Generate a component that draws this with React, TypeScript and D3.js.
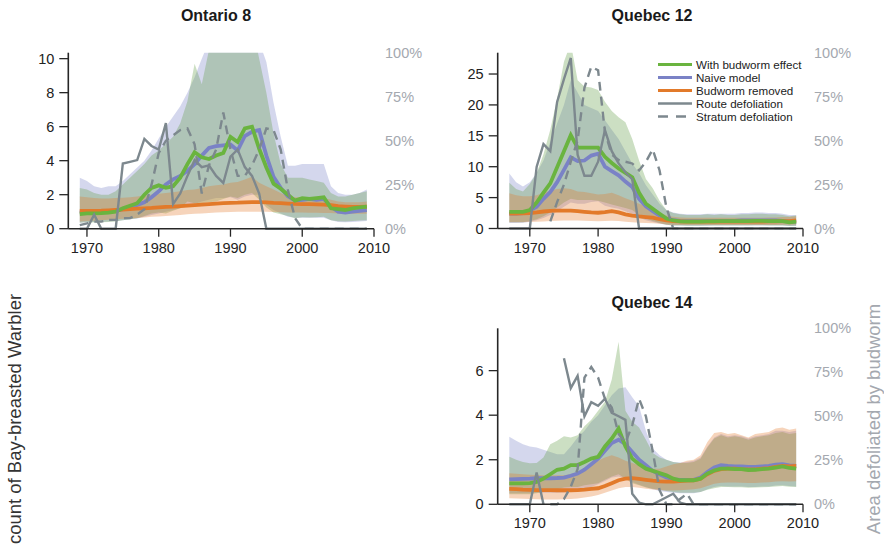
import React from "react";
import * as d3 from "d3";

// ---------------- DATA ----------------
// Ontario 8 : yearly values starting 1969
const ON8_START = 1969;
const ON8_green = [0.86,0.9,0.9,0.92,0.95,1.0,1.2,1.35,1.5,2.0, 2.4,2.55,2.4,2.5,3.0,3.8,4.5,4.2,4.1,4.3, 4.45,5.4,5.1,5.9,6.0,4.7,3.6,2.65,2.35,2.0, 1.65,1.8,1.75,1.8,1.85,1.2,1.15,1.1,1.2,1.25, 1.3];
const ON8_blue = [0.95,1.0,1.0,1.0,1.02,1.05,1.15,1.25,1.4,1.55, 1.85,2.2,2.6,2.9,3.1,3.4,3.8,4.3,4.75,4.85, 4.9,4.95,4.6,5.45,5.7,5.8,4.3,3.05,2.4,1.9, 1.65,1.7,1.75,1.7,1.75,1.3,1.0,0.95,1.0,1.05, 1.1];
const ON8_orange = [1.05,1.05,1.05,1.06,1.08,1.1,1.12,1.15,1.18,1.2, 1.22,1.25,1.28,1.3,1.33,1.36,1.39,1.42,1.45,1.48, 1.5,1.52,1.53,1.55,1.56,1.56,1.55,1.52,1.5,1.48, 1.46,1.45,1.44,1.43,1.42,1.38,1.32,1.3,1.28,1.28, 1.3];
const ON8_blueHi = [3.0,2.8,2.5,2.4,2.5,2.5,2.8,3.2,3.6,4.0, 4.6,5.3,6.0,6.6,7.2,8.0,8.9,10.0,11,12, 12,12,12,12,12,11,9.8,7.4,5.4,3.7, 3.7,3.8,3.8,3.8,3.8,2.5,2.1,2.0,2.0,2.1, 2.3];
const ON8_blueLo = [0.35,0.4,0.4,0.4,0.42,0.45,0.5,0.55,0.6,0.7, 0.8,0.9,1.0,1.1,1.2,1.3,1.45,1.6,1.7,1.8, 1.8,1.85,1.7,1.9,2.0,2.0,1.4,1.1,0.9,0.7, 0.65,0.65,0.65,0.65,0.65,0.5,0.4,0.38,0.4,0.42, 0.45];
const ON8_greenHi = [2.4,2.3,2.1,2.0,2.0,2.2,2.6,3.0,3.4,3.8, 4.3,4.6,5.0,5.4,6.2,7.5,9.7,8.5,10.5,12, 12,12,12,12,12,10,8.0,5.6,3.8,3.0, 3.0,3.0,2.9,2.8,2.7,2.1,1.9,1.9,2.0,2.1, 2.2];
const ON8_greenLo = [0.35,0.38,0.36,0.38,0.4,0.42,0.5,0.55,0.62,0.75, 0.9,0.95,0.9,1.05,1.2,1.6,1.5,1.5,1.55,1.6, 1.75,1.9,1.8,2.0,2.1,1.7,1.25,0.95,0.85,0.75, 0.62,0.68,0.66,0.68,0.7,0.5,0.44,0.42,0.46,0.48, 0.5];
const ON8_orangeHi = [1.9,1.85,1.8,1.78,1.78,1.8,1.82,1.85,1.9,1.95, 2.0,2.05,2.1,2.15,2.2,2.28,2.3,2.4,2.5,2.55, 2.6,2.7,2.75,2.9,3.05,2.7,2.5,2.3,2.1,1.9, 1.85,1.85,1.8,1.8,1.8,1.7,1.6,1.55,1.55,1.55, 1.6];
const ON8_orangeLo = [0.42,0.45,0.47,0.5,0.52,0.55,0.58,0.6,0.63,0.66, 0.7,0.72,0.75,0.78,0.8,0.85,0.88,0.9,0.93,0.95, 0.97,0.98,0.99,1.0,1.0,1.0,1.0,0.98,0.97,0.96, 0.95,0.95,0.94,0.94,0.93,0.92,0.9,0.88,0.88,0.88, 0.88];
const ON8_route = [0,0,0.08,0,0,0,0.37,0.38,0.39,0.51, 0.47,0.45,0.6,0.14,0.2,0.3,0.39,0.35,0.36,0.3, 0.26,0.41,0.45,0.35,0.3,0.2,0,0,0,0, 0,0,0,0,0,0,0,0,0,0, 0];
const ON8_stratum = [0.02,0.03,0.04,0.04,0.05,0.05,0.06,0.06,0.08,0.11, 0.25,0.43,0.5,0.53,0.56,0.57,0.48,0.2,0.36,0.45, 0.66,0.45,0.3,0.3,0.36,0.45,0.57,0.56,0.45,0.22, 0.06,0,0,0,0,0,0,0,0,0, 0];

// Quebec 12 : yearly values starting 1967
const Q12_START = 1967;
const Q12_green = [2.7,2.7,2.7,3.0,4.2,5.8,7.3,9.9,12.5,15.1, 13.1,13.1,13.1,13.1,11.6,10.6,9.7,9.0,8.3,5.8, 4.0,3.2,2.4,1.62,1.3,1.15,1.1,1.1,1.1,1.15, 1.15,1.2,1.2,1.2,1.2,1.2,1.25,1.25,1.2,1.2, 1.2,1.0,1.1];
const Q12_blue = [2.4,2.4,2.5,2.9,3.5,4.8,5.9,7.5,9.5,11.5, 10.9,11.0,11.8,12.1,10.0,9.3,8.6,7.6,6.7,4.8, 3.6,2.8,2.1,1.6,1.35,1.25,1.2,1.2,1.2,1.2, 1.25,1.25,1.25,1.25,1.3,1.3,1.3,1.3,1.3,1.3, 1.25,1.1,1.1];
const Q12_orange = [2.4,2.4,2.45,2.5,2.6,2.75,2.85,2.9,2.9,2.9, 2.8,2.7,2.6,2.55,2.65,2.8,2.6,2.3,2.1,1.95, 1.85,1.75,1.5,1.3,1.2,1.15,1.1,1.1,1.1,1.1, 1.1,1.1,1.1,1.1,1.1,1.1,1.1,1.1,1.15,1.15, 1.2,1.2,1.3];
const Q12_blueHi = [8.9,7.5,6.8,7.5,9.0,11,14,17,20,24, 22,20,19.5,19,17.5,16,14.5,12.5,10.5,9, 7,5.5,4.0,3.0,2.6,2.4,2.3,2.3,2.3,2.4, 2.4,2.4,2.4,2.4,2.5,2.5,2.6,2.6,2.5,2.5, 2.4,2.2,2.2];
const Q12_blueLo = [0.9,0.9,0.95,1.1,1.35,1.7,2.2,2.8,3.5,4.2, 4.0,4.0,4.3,4.4,3.7,3.4,3.2,2.8,2.4,1.8, 1.35,1.05,0.8,0.6,0.5,0.48,0.46,0.46,0.46,0.46, 0.48,0.48,0.48,0.48,0.5,0.5,0.5,0.5,0.5,0.5, 0.48,0.42,0.42];
const Q12_greenHi = [7.4,6.4,6.0,7.2,9.0,12,16,21,27,30, 24,23,22.8,22.4,20.5,19,18,17.2,14.5,11, 8.0,6.5,4.5,3.0,2.5,2.3,2.2,2.2,2.2,2.3, 2.2,2.3,2.2,2.2,2.3,2.3,2.4,2.4,2.3,2.3, 2.2,2.0,2.1];
const Q12_greenLo = [1.0,1.0,1.0,1.2,1.5,2.0,2.6,3.4,4.2,4.8, 4.6,4.6,4.6,4.5,4.2,3.9,3.6,3.3,3.0,2.2, 1.6,1.2,0.9,0.6,0.5,0.48,0.46,0.46,0.46,0.48, 0.48,0.5,0.5,0.5,0.5,0.5,0.52,0.52,0.5,0.5, 0.5,0.42,0.45];
const Q12_orangeHi = [5.7,5.4,5.2,5.2,5.4,5.8,6.1,6.4,6.5,6.4, 6.0,5.9,5.7,5.5,5.6,5.8,5.4,4.9,4.5,4.0, 3.6,3.2,2.6,2.1,1.9,1.8,1.75,1.75,1.75,1.75, 1.75,1.75,1.75,1.75,1.75,1.75,1.75,1.75,1.8,1.8, 1.85,1.85,2.0];
const Q12_orangeLo = [1.0,1.0,1.02,1.05,1.1,1.15,1.2,1.25,1.3,1.3, 1.28,1.25,1.2,1.18,1.2,1.25,1.2,1.1,1.0,0.95, 0.9,0.85,0.75,0.65,0.6,0.57,0.55,0.55,0.55,0.55, 0.55,0.55,0.55,0.55,0.55,0.55,0.55,0.55,0.57,0.57, 0.6,0.6,0.65];
const Q12_route = [0,0,0,0,0.35,0.48,0.44,0.72,0.85,0.97, 0.42,0.3,0.3,0.38,0.56,0.44,0.37,0.32,0.28,0, 0,0,0,0,0,0,0,0,0,0, 0,0,0,0,0,0,0,0,0,0, 0,0,0];
const Q12_stratum = [null,null,null,null,null,null,0.04,0.15,0.25,0.38, 0.5,0.8,0.92,0.9,0.55,0.42,0.39,0.38,0.37,0.33, 0.38,0.45,0.33,0.12,0,0,0,0,0,0, 0,0,0,0,0,0,0,0,0,0, 0,0,0];

// Quebec 14 : yearly values starting 1967
const Q14_START = 1967;
const Q14_green = [0.94,0.94,0.94,0.95,1.0,1.15,1.35,1.55,1.6,1.76, 1.76,1.9,2.05,2.13,2.6,2.95,3.4,2.6,2.05,1.8, 1.6,1.5,1.4,1.3,1.15,1.08,1.08,1.08,1.15,1.38, 1.52,1.6,1.6,1.58,1.58,1.54,1.55,1.58,1.6,1.65, 1.7,1.63,1.6];
const Q14_blue = [1.12,1.13,1.14,1.15,1.17,1.17,1.17,1.18,1.2,1.28, 1.38,1.55,1.8,2.05,2.4,2.75,2.9,2.7,2.35,2.0, 1.75,1.5,1.35,1.2,1.12,1.1,1.1,1.1,1.2,1.45, 1.65,1.76,1.72,1.7,1.7,1.68,1.68,1.7,1.72,1.78, 1.8,1.75,1.72];
const Q14_orange = [0.69,0.68,0.66,0.65,0.64,0.64,0.64,0.63,0.63,0.63, 0.64,0.66,0.69,0.72,0.82,0.95,1.08,1.15,1.17,1.14, 1.1,1.06,1.03,1.02,1.02,1.04,1.06,1.08,1.15,1.35, 1.5,1.58,1.6,1.6,1.58,1.57,1.57,1.6,1.62,1.68, 1.72,1.7,1.72];
const Q14_blueHi = [3.03,2.85,2.7,2.6,2.55,2.45,2.35,2.25,2.25,2.6, 3.0,3.3,3.7,4.0,4.45,4.9,5.2,5.25,4.8,4.4, 3.3,2.5,2.2,2.0,1.9,1.88,1.9,1.95,2.1,2.6, 3.0,3.15,3.05,3.1,3.05,2.95,3.05,3.1,3.15,3.3, 3.3,3.25,3.3];
const Q14_blueLo = [0.5,0.5,0.5,0.5,0.52,0.52,0.52,0.52,0.53,0.56, 0.6,0.68,0.78,0.9,1.05,1.2,1.25,1.15,1.0,0.88, 0.78,0.68,0.6,0.55,0.52,0.5,0.5,0.5,0.55,0.68, 0.78,0.82,0.8,0.8,0.8,0.78,0.78,0.8,0.8,0.84, 0.85,0.82,0.8];
const Q14_greenHi = [2.13,2.0,1.9,1.84,1.85,2.1,2.7,2.85,3.05,3.0, 3.1,3.5,3.8,4.2,4.6,5.6,7.3,4.2,3.7,3.45, 2.9,2.3,2.1,2.0,1.9,1.85,1.85,1.9,2.05,2.55, 2.95,3.1,3.0,3.05,3.0,2.9,3.0,3.05,3.1,3.2, 3.25,3.15,3.2];
const Q14_greenLo = [0.45,0.45,0.45,0.45,0.5,0.55,0.6,0.68,0.75,0.78, 0.78,0.85,0.9,0.95,1.1,1.25,1.35,1.15,0.95,0.85, 0.75,0.7,0.65,0.6,0.55,0.52,0.52,0.52,0.55,0.65, 0.72,0.78,0.78,0.76,0.76,0.74,0.75,0.76,0.78,0.8, 0.82,0.79,0.78];
const Q14_orangeHi = [1.39,1.37,1.35,1.33,1.32,1.3,1.3,1.3,1.3,1.35, 1.45,1.6,1.75,1.95,2.1,2.2,2.1,1.95,1.85,1.75, 1.65,1.6,1.6,1.7,1.8,1.85,1.95,2.0,2.2,2.8, 3.2,3.25,3.15,3.2,3.1,3.0,3.15,3.2,3.25,3.4, 3.45,3.35,3.4];
const Q14_orangeLo = [0.27,0.26,0.25,0.24,0.23,0.22,0.22,0.22,0.23,0.24, 0.26,0.3,0.35,0.42,0.52,0.62,0.72,0.78,0.78,0.74, 0.7,0.66,0.64,0.62,0.62,0.63,0.65,0.67,0.72,0.82, 0.92,0.97,0.98,0.98,0.97,0.96,0.96,0.98,0.99,1.02, 1.04,1.02,1.03];
const Q14_route = [0,0,0,0,0.18,0,null,null,0.83,0.66, 0.73,0.5,0.58,0.56,0.6,0.52,0.5,0.48,0.06,0.01, 0,0,0.02,0.04,0.06,0.01,0,0,0,0, 0,0,0,0,0,0,0,0,0,0, 0,0,0];
const Q14_stratum = [null,null,null,null,null,null,0,0,0.03,0.1, 0.2,0.72,0.78,0.72,0.6,0.55,0.4,0.35,0.45,0.6, 0.5,0.3,0.08,0,0,0.03,0.06,0,0,0, 0,0,0,0,0,0,0,0,0,0, 0,0,0];

// tick values / labels
const X_TICKS = [1970, 1980, 1990, 2000, 2010];
const ON8_Y_TICKS = [0, 2, 4, 6, 8, 10];
const Q12_Y_TICKS = [0, 5, 10, 15, 20, 25];
const Q14_Y_TICKS = [0, 2, 4, 6];
const RIGHT_TICKS = [0, 0.25, 0.5, 0.75, 1];
const LEGEND_LABELS = ["With budworm effect", "Naive model", "Budworm removed", "Route defoliation", "Stratum defoliation"];

// ---------------- STYLE ----------------
const FONT = "'Liberation Sans', Arial, Helvetica, sans-serif";
const C_GREEN = "#6ab43f";
const C_BLUE = "#7a82c6";
const C_ORANGE = "#e27a2a";
const C_GREEN_BAND = "#5f9a45";
const C_GREY = "#7d888e";
const C_RIGHT = "#a4a8af";
const C_AXIS = "#262626";
const BAND_OP = 0.32;

type Arr = (number | null)[];
interface PanelProps {
  id: string;
  title: string;
  titleX: number;
  titleY: number;
  start: number;
  green: Arr; blue: Arr; orange: Arr;
  greenLo: Arr; greenHi: Arr; blueLo: Arr; blueHi: Arr; orangeLo: Arr; orangeHi: Arr;
  route: Arr; stratum: Arr;
  xDomain: [number, number];
  xRange: [number, number];
  yMax: number;
  yBottom: number;
  yTop: number;
  yTicks: number[];
  legend?: boolean;
}

function Panel(p: PanelProps) {
  const x = d3.scaleLinear().domain(p.xDomain).range(p.xRange);
  const y = d3.scaleLinear().domain([0, p.yMax]).range([p.yBottom, p.yTop]);
  const yr = d3.scaleLinear().domain([0, 1]).range([p.yBottom, p.yTop]);
  const idx = p.green.map((_, i) => i);
  const band = (lo: Arr, hi: Arr) =>
    d3.area<number>()
      .x((i) => x(p.start + i))
      .y0((i) => y(lo[i] as number))
      .y1((i) => y(hi[i] as number))(idx) || "";
  const line = (arr: Arr, sc: d3.ScaleLinear<number, number>) =>
    d3.line<number>()
      .defined((i) => arr[i] != null)
      .x((i) => x(p.start + i))
      .y((i) => sc(arr[i] as number))(idx) || "";
  const clip = `clip-${p.id}`;
  const [x0, x1] = p.xRange;
  return (
    <g>
      <defs>
        <clipPath id={clip}>
          <rect x={x0} y={p.yTop} width={x1 - x0 + 5} height={p.yBottom - p.yTop + 3} />
        </clipPath>
      </defs>
      <g clipPath={`url(#${clip})`}>
        <path d={band(p.blueLo, p.blueHi)} fill={C_BLUE} fillOpacity={BAND_OP} />
        <path d={band(p.greenLo, p.greenHi)} fill={C_GREEN_BAND} fillOpacity={BAND_OP} />
        <path d={band(p.orangeLo, p.orangeHi)} fill={C_ORANGE} fillOpacity={BAND_OP} />
        <path d={line(p.blue, y)} fill="none" stroke={C_BLUE} strokeWidth={3.8} />
        <path d={line(p.orange, y)} fill="none" stroke={C_ORANGE} strokeWidth={3.8} />
        <path d={line(p.green, y)} fill="none" stroke={C_GREEN} strokeWidth={3.8} />
        <path d={line(p.route, yr)} fill="none" stroke={C_GREY} strokeWidth={2.4} />
        <path d={line(p.stratum, yr)} fill="none" stroke={C_GREY} strokeWidth={2.4} strokeDasharray="9,6" />
      </g>
      {/* left axis */}
      <line x1={x0} x2={x0} y1={p.yTop} y2={p.yBottom} stroke={C_AXIS} strokeWidth={1.6} />
      {p.yTicks.map((t) => (
        <g key={`yl${t}`}>
          <line x1={x0 - 9} x2={x0} y1={y(t)} y2={y(t)} stroke={C_AXIS} strokeWidth={1.3} />
          <text x={x0 - 14} y={y(t)} dy="0.35em" textAnchor="end" fontSize={14.5} fill="#222">{t}</text>
        </g>
      ))}
      {/* bottom axis */}
      <line x1={x0} x2={x1} y1={p.yBottom} y2={p.yBottom} stroke={C_AXIS} strokeWidth={1.6} />
      {X_TICKS.map((t) => (
        <g key={`xt${t}`}>
          <line x1={x(t)} x2={x(t)} y1={p.yBottom} y2={p.yBottom + 8} stroke={C_AXIS} strokeWidth={1.3} />
          <text x={x(t)} y={p.yBottom + 24} textAnchor="middle" fontSize={14.5} fill="#222">{t}</text>
        </g>
      ))}
      {/* right axis labels */}
      {RIGHT_TICKS.map((t) => (
        <text key={`yr${t}`} x={x1 + 11} y={yr(t)} dy="0.35em" textAnchor="start" fontSize={14.5} fill={C_RIGHT}>
          {`${Math.round(t * 100)}%`}
        </text>
      ))}
      <text x={p.titleX} y={p.titleY} textAnchor="middle" fontSize={16} fontWeight="bold" fill="#1a1a1a">{p.title}</text>
      {p.legend && (
        <g>
          {LEGEND_LABELS.map((lab, i) => {
            const ly = 64.5 + i * 13;
            const col = i === 0 ? C_GREEN : i === 1 ? C_BLUE : i === 2 ? C_ORANGE : C_GREY;
            return (
              <g key={lab}>
                <line x1={658} x2={692} y1={ly} y2={ly} stroke={col} strokeWidth={i < 3 ? 3 : 2.4}
                  strokeDasharray={i === 4 ? "10,8" : undefined} />
                <text x={696} y={ly + 4} fontSize={11.6} fill="#222">{lab}</text>
              </g>
            );
          })}
        </g>
      )}
    </g>
  );
}

export default function App() {
  return (
    <svg width={884} height={553} style={{ position: "absolute", left: 0, top: 0 }} fontFamily={FONT}>
      <rect width={884} height={553} fill="#fff" />
      <Panel id="on8" title="Ontario 8" titleX={216} titleY={21} start={ON8_START}
        green={ON8_green} blue={ON8_blue} orange={ON8_orange}
        greenLo={ON8_greenLo} greenHi={ON8_greenHi} blueLo={ON8_blueLo} blueHi={ON8_blueHi}
        orangeLo={ON8_orangeLo} orangeHi={ON8_orangeHi} route={ON8_route} stratum={ON8_stratum}
        xDomain={[1967.4, 2010]} xRange={[68.3, 374]} yMax={10.35} yBottom={228.7} yTop={52.7}
        yTicks={ON8_Y_TICKS} />
      <Panel id="q12" title="Quebec 12" titleX={652} titleY={21} start={Q12_START}
        green={Q12_green} blue={Q12_blue} orange={Q12_orange}
        greenLo={Q12_greenLo} greenHi={Q12_greenHi} blueLo={Q12_blueLo} blueHi={Q12_blueHi}
        orangeLo={Q12_orangeLo} orangeHi={Q12_orangeHi} route={Q12_route} stratum={Q12_stratum}
        xDomain={[1965.3, 2010]} xRange={[497.7, 803]} yMax={28.45} yBottom={228.5} yTop={52.7}
        yTicks={Q12_Y_TICKS} legend />
      <Panel id="q14" title="Quebec 14" titleX={652} titleY={308} start={Q14_START}
        green={Q14_green} blue={Q14_blue} orange={Q14_orange}
        greenLo={Q14_greenLo} greenHi={Q14_greenHi} blueLo={Q14_blueLo} blueHi={Q14_blueHi}
        orangeLo={Q14_orangeLo} orangeHi={Q14_orangeHi} route={Q14_route} stratum={Q14_stratum}
        xDomain={[1965.3, 2010]} xRange={[497.7, 803]} yMax={7.9} yBottom={504.3} yTop={328.3}
        yTicks={Q14_Y_TICKS} />
      <text transform="translate(21,419) rotate(-90)" textAnchor="middle" fontSize={18.5} fill="#333">
        count of Bay-breasted Warbler
      </text>
      <text transform="translate(879.5,419) rotate(-90)" textAnchor="middle" fontSize={18.5} fill={C_RIGHT}>
        Area defoliated by budworm
      </text>
    </svg>
  );
}
